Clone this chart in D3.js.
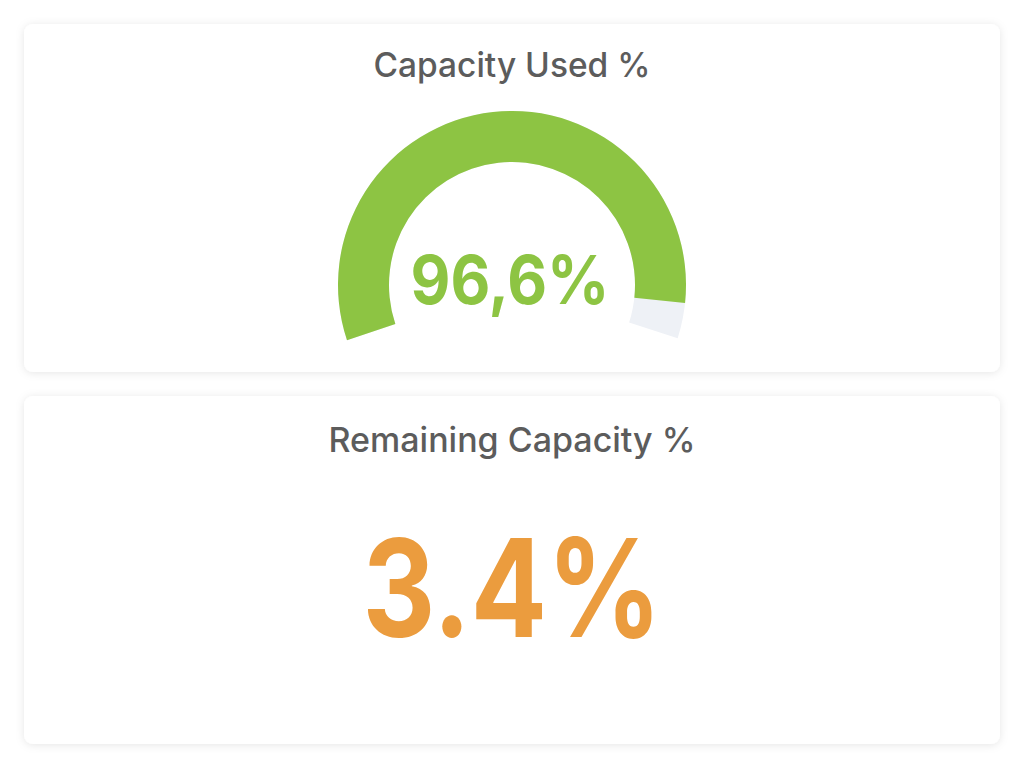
<!DOCTYPE html>
<html>
<head>
<meta charset="utf-8">
<script src="https://cdn.jsdelivr.net/npm/d3@7"></script>
<style>
  html, body { margin: 0; padding: 0; background: #ffffff; }
  svg { display: block; }
  text { font-family: Inter, "Open Sans", sans-serif; }
</style>
</head>
<body>
<svg id="chart" width="1024" height="768"></svg>
<script>
// ---- data ----
const titles = ["Capacity Used %", "Remaining Capacity %"];
const usedValue = 96.6;
const usedLabel = "96,6%";
const remainingValue = 3.4;
const remainingLabel = "3.4%";
const gaugeDomain = [0, 100];

// ---- layout ----
const W = 1024, H = 768;
const svg = d3.select("#chart");
const defs = svg.append("defs");
const f = defs.append("filter").attr("id", "shadow")
  .attr("x", "-5%").attr("y", "-10%").attr("width", "110%").attr("height", "120%");
f.append("feDropShadow").attr("dx", 0).attr("dy", 1)
  .attr("stdDeviation", 4).attr("flood-color", "#000").attr("flood-opacity", 0.10);

const cards = [
  { x: 24, y: 24, w: 976, h: 348 },
  { x: 24, y: 396, w: 976, h: 348 }
];
svg.selectAll("rect.card").data(cards).join("rect")
  .attr("class", "card")
  .attr("x", d => d.x).attr("y", d => d.y)
  .attr("width", d => d.w).attr("height", d => d.h)
  .attr("rx", 9).attr("fill", "#fff").attr("filter", "url(#shadow)");

function fitText(sel, targetW) {
  const node = sel.node();
  const fs = parseFloat(sel.attr("font-size"));
  const w = node.getComputedTextLength();
  sel.attr("font-size", fs * targetW / w);
}
// size by cap height, then scale horizontally to reach target width
function fitCapWidth(sel, cx, baseY, capH, targetW) {
  sel.attr("x", 0).attr("y", 0).attr("font-size", capH / 0.727);
  const w = sel.node().getComputedTextLength();
  const sx = Math.min(1, targetW / w);
  sel.attr("transform", `translate(${cx},${baseY}) scale(${sx},1)`);
}

// titles
const titleSpec = [
  { y: 77, w: 277 },
  { y: 452, w: 367 }
];
titles.forEach((t, i) => {
  const s = svg.append("text").attr("x", 512).attr("y", titleSpec[i].y)
    .attr("text-anchor", "middle").attr("font-size", 30).attr("font-weight", 500)
    .attr("fill", "#5c5c5c").text(t);
  fitText(s, titleSpec[i].w);
});

// gauge
const cx = 512, cy = 285, R = 174, r = 123;
const deg = Math.PI / 180;
const angle = d3.scaleLinear().domain(gaugeDomain).range([-108.5 * deg, 103.1 * deg]);
const trackEnd = 107.8 * deg;
const arc = d3.arc().innerRadius(r).outerRadius(R);
const g = svg.append("g").attr("transform", `translate(${cx},${cy})`);
g.append("path")
  .attr("d", arc({ startAngle: angle(gaugeDomain[0]), endAngle: trackEnd }))
  .attr("fill", "#eef1f6");
g.append("path")
  .attr("d", arc({ startAngle: angle(gaugeDomain[0]), endAngle: angle(usedValue) }))
  .attr("fill", "#8dc443");

const v1 = svg.append("text")
  .attr("text-anchor", "middle").attr("font-weight", 700)
  .attr("fill", "#8dc443").text(usedLabel);
fitCapWidth(v1, 510, 304, 49, 199);

const v2 = svg.append("text")
  .attr("text-anchor", "middle").attr("font-weight", 700)
  .attr("fill", "#eb9c3e").text(remainingLabel);
fitCapWidth(v2, 512, 637, 99, 299);
</script>
</body>
</html>
